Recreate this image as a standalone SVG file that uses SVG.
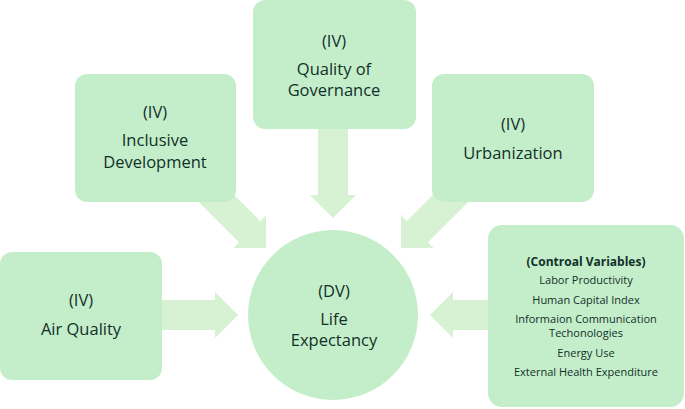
<svg xmlns="http://www.w3.org/2000/svg" width="685" height="409" viewBox="0 0 685 409">
<style>
.box{fill:#c4eec9}
.arr{fill:#d7f1d3}
.t{font-family:"Open Sans","Noto Sans",sans-serif;font-size:16.5px;fill:#12302a;text-anchor:middle}
.s{font-family:"Open Sans","Noto Sans",sans-serif;font-size:11px;fill:#12302a;text-anchor:middle}
.b{font-weight:bold;font-size:12px}
</style>
<defs>
<polygon id="a" points="-90,-15 -23,-15 -23,-23 0,0 -23,23 -23,15 -90,15"/>
</defs>
<rect width="685" height="409" fill="#fff"/>
<g id="connectors" class="arr">
<use href="#a" transform="translate(238,315)"/>
<use href="#a" transform="translate(430,315) rotate(180)"/>
<use href="#a" transform="translate(333,218) rotate(90)"/>
<use href="#a" transform="translate(266,248) rotate(45)"/>
<use href="#a" transform="translate(401,248) rotate(135)"/>
</g>
<g id="governance">
<rect class="box" x="253" y="0" width="163" height="129" rx="12"/>
<text class="t" x="334" y="47">(IV)</text>
<text class="t" x="334" y="75">Quality of</text>
<text class="t" x="334" y="96">Governance</text>
</g>
<g id="inclusive">
<rect class="box" x="75" y="74" width="161" height="128" rx="12"/>
<text class="t" x="155" y="118">(IV)</text>
<text class="t" x="155" y="146">Inclusive</text>
<text class="t" x="155" y="168">Development</text>
</g>
<g id="urbanization">
<rect class="box" x="432" y="74" width="162" height="128" rx="12"/>
<text class="t" x="513" y="130">(IV)</text>
<text class="t" x="513" y="159">Urbanization</text>
</g>
<g id="airquality">
<rect class="box" x="0" y="252" width="162" height="128" rx="12"/>
<text class="t" x="81" y="306">(IV)</text>
<text class="t" x="81" y="335">Air Quality</text>
</g>
<g id="lifeexpectancy">
<circle class="box" cx="333" cy="315" r="85"/>
<text class="t" x="334" y="297">(DV)</text>
<text class="t" x="334" y="325">Life</text>
<text class="t" x="334" y="346">Expectancy</text>
</g>
<g id="controls">
<rect class="box" x="488" y="225" width="196" height="182" rx="14"/>
<text class="s b" x="586" y="266">(Controal Variables)</text>
<text class="s" x="586" y="284">Labor Productivity</text>
<text class="s" x="586" y="304">Human Capital Index</text>
<text class="s" x="586" y="323">Informaion Communication</text>
<text class="s" x="586" y="337">Techonologies</text>
<text class="s" x="586" y="357">Energy Use</text>
<text class="s" x="586" y="376">External Health Expenditure</text>
</g>
</svg>
